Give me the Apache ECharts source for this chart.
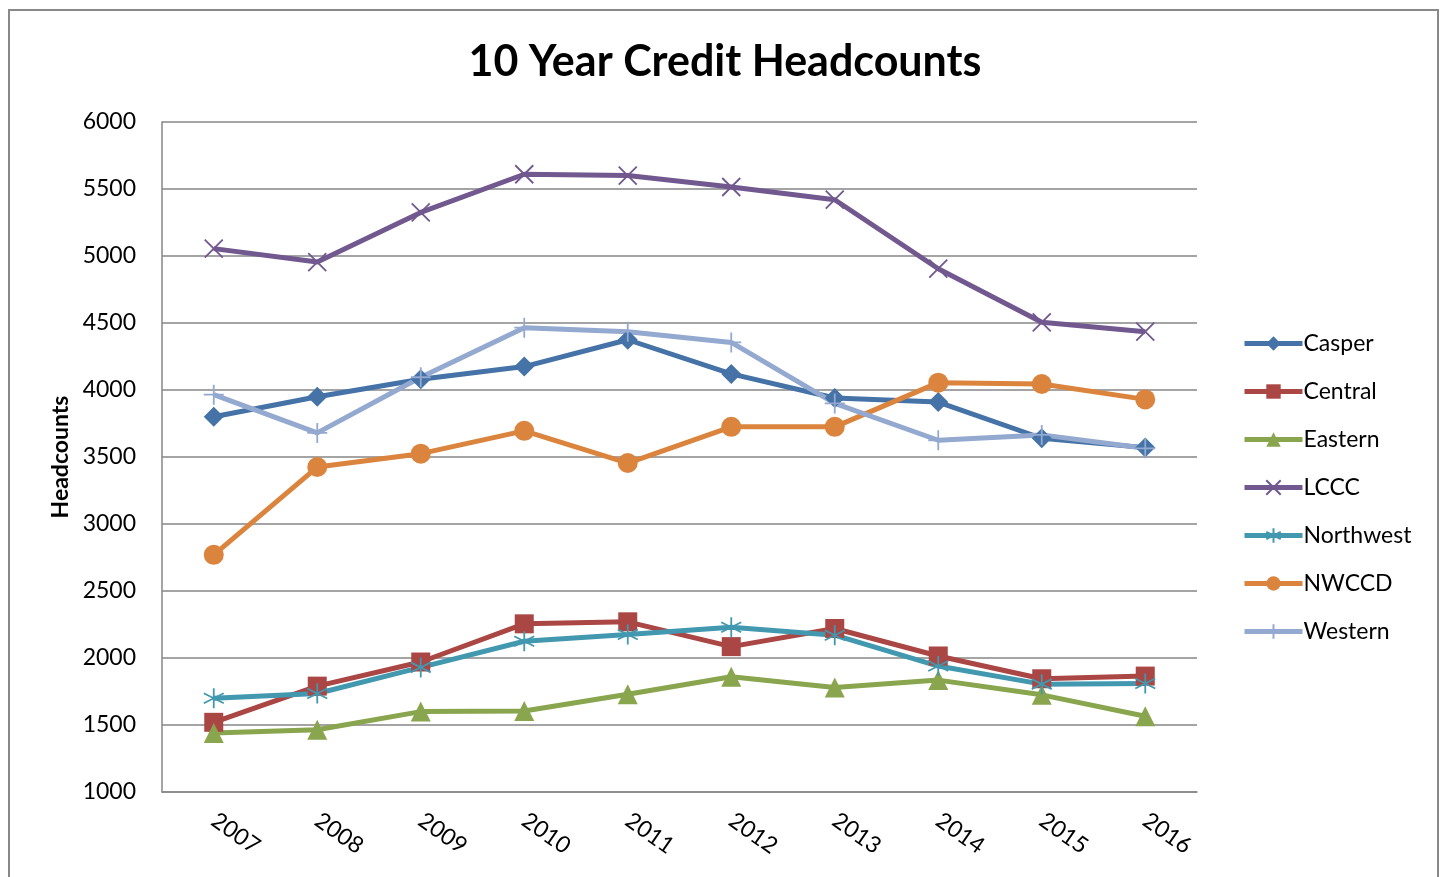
<!DOCTYPE html>
<html><head><meta charset="utf-8">
<script src="https://cdn.jsdelivr.net/npm/echarts@6/dist/echarts.min.js"></script>
<style>html,body{margin:0;padding:0;background:#fff}#c{width:1442px;height:877px}</style>
</head><body><div id="c"></div>
<script>
const years = ['2007','2008','2009','2010','2011','2012','2013','2014','2015','2016'];
const casper    = [3800, 3950, 4080, 4175, 4375, 4120, 3940, 3910, 3640, 3570];
const central   = [1520, 1790, 1970, 2255, 2270, 2085, 2220, 2015, 1845, 1865];
const eastern   = [1440, 1465, 1600, 1605, 1730, 1860, 1780, 1835, 1725, 1565];
const lccc      = [5055, 4955, 5325, 5610, 5600, 5515, 5420, 4905, 4505, 4435];
const northwest = [1700, 1735, 1930, 2125, 2175, 2230, 2170, 1940, 1805, 1810];
const nwccd     = [2770, 3425, 3525, 3695, 3455, 3725, 3725, 4055, 4045, 3930];
const western   = [3965, 3680, 4095, 4465, 4435, 4355, 3900, 3625, 3665, 3565];
const yTicks = [1000, 6000, 500];

const FONT = 'Lato';
const xPath = 'path://M0,0 L10,10 M10,0 L0,10';
const starPath = 'path://M5,0 L5,10 M0.7,2.5 L9.3,7.5 M9.3,2.5 L0.7,7.5';
const plusPath = 'path://M5,0 L5,10 M0,5 L10,5';

function mk(name, data, color, symbol, size, stroke) {
  return {
    name, type: 'line', data, symbol, symbolSize: size,
    lineStyle: { color, width: 5 },
    itemStyle: stroke ? { color: 'rgba(0,0,0,0)', borderColor: color, borderWidth: 1.8 } : { color },
    emphasis: { disabled: true }, animation: false, z: 3
  };
}

const chart = echarts.init(document.getElementById('c'), null, { renderer: 'canvas' });
chart.setOption({
  animation: false,
  textStyle: { fontFamily: FONT },
  title: {
    text: '10 Year Credit Headcounts', left: 720, top: 36, textAlign: 'center',
    textStyle: { fontFamily: FONT, fontSize: 43, fontWeight: 'bold', color: '#000' }
  },
  graphic: [{
    type: 'rect', shape: { x: 9, y: 10, width: 1429, height: 900 },
    style: { fill: 'none', stroke: '#888', lineWidth: 2 }, silent: true
  }],
  grid: { left: 162, right: 245, top: 122, bottom: 85, containLabel: false },
  legend: {
    orient: 'vertical', left: 1237, top: 327, itemGap: 25, itemWidth: 58, itemHeight: 18,
    lineStyle: { width: 5 },
    textStyle: { fontFamily: FONT, fontSize: 23, color: '#000', padding: [0, 0, 0, -4] },
    data: ['Casper', 'Central', 'Eastern', 'LCCC', 'Northwest', 'NWCCD', 'Western']
  },
  xAxis: {
    type: 'category', data: years, boundaryGap: true,
    axisLine: { lineStyle: { color: '#868686', width: 1.5 } },
    axisTick: { show: false },
    axisLabel: { rotate: -35, margin: 26, fontFamily: FONT, fontSize: 23, color: '#000' }
  },
  yAxis: {
    type: 'value', min: yTicks[0], max: yTicks[1], interval: yTicks[2],
    name: 'Headcounts', nameLocation: 'middle', nameGap: 90, nameRotate: 90,
    nameTextStyle: { fontFamily: FONT, fontSize: 23, fontWeight: 'bold', color: '#000' },
    axisLine: { show: true, lineStyle: { color: '#868686', width: 1.5 } },
    axisTick: { show: false },
    splitLine: { lineStyle: { color: '#868686', width: 1.5 } },
    axisLabel: { margin: 26, fontFamily: FONT, fontSize: 23, color: '#000', formatter: v => String(v) }
  },
  series: [
    mk('Casper', casper, '#4572A7', 'diamond', 20),
    mk('Central', central, '#AA4643', 'rect', 19),
    mk('Eastern', eastern, '#89A54E', 'triangle', 20),
    mk('LCCC', lccc, '#71588F', xPath, 18, true),
    mk('Northwest', northwest, '#4198AF', starPath, 20, true),
    mk('NWCCD', nwccd, '#DB843D', 'circle', 20),
    mk('Western', western, '#93A9CF', plusPath, 20, true)
  ]
});
</script></body></html>
